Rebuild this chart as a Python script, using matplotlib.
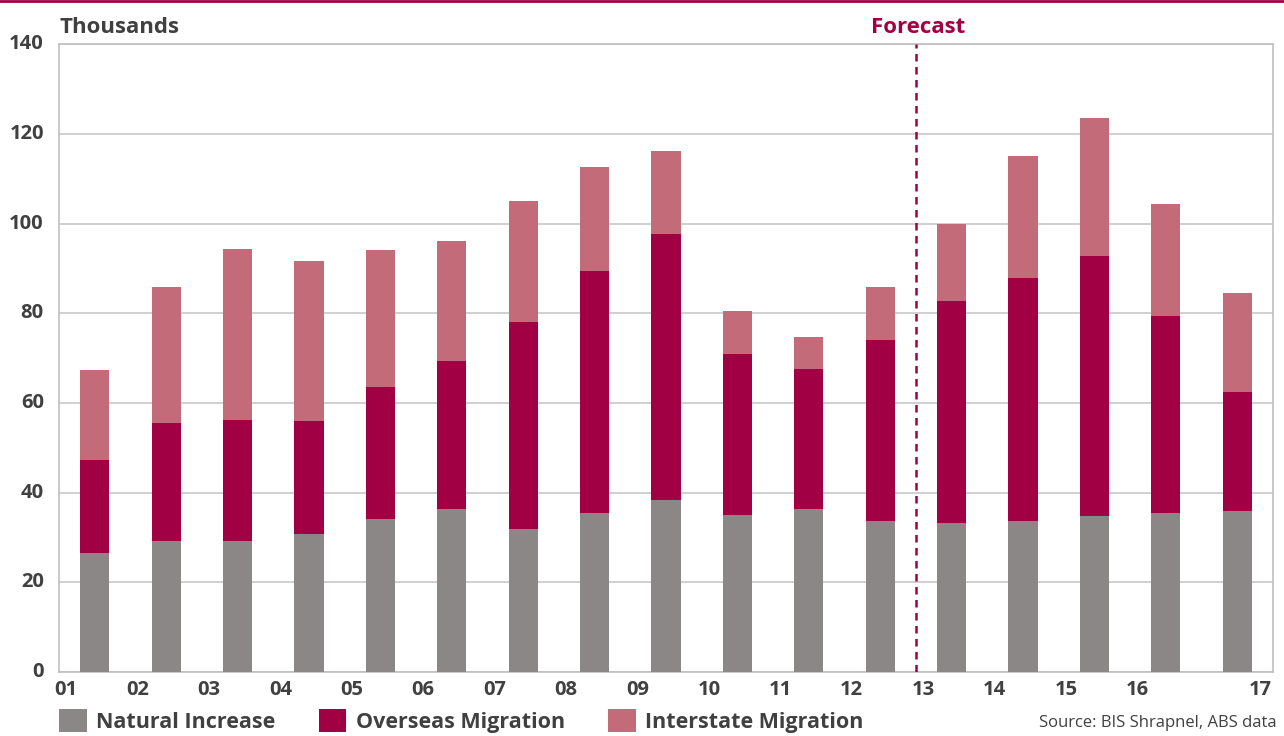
import numpy as np
import matplotlib.pyplot as plt
import matplotlib.transforms as mtransforms

plt.rcParams['font.family'] = ['Open Sans', 'DejaVu Sans']

years = ["01", "02", "03", "04", "05", "06", "07", "08", "09",
         "10", "11", "12", "13", "14", "15", "16", "17"]
natural = [26.5, 29.2, 29.2, 30.8, 34.1, 36.3, 31.9, 35.4, 38.3,
           35.0, 36.3, 33.7, 33.2, 33.7, 34.8, 35.4, 35.9]
overseas = [20.8, 26.3, 27.0, 25.2, 29.4, 33.0, 46.1, 54.0, 59.3,
            35.9, 31.2, 40.3, 49.5, 54.1, 57.9, 44.0, 26.5]
interstate = [20.0, 30.3, 38.1, 35.6, 30.6, 26.8, 27.0, 23.2, 18.5,
              9.6, 7.2, 11.8, 17.2, 27.2, 30.8, 24.9, 22.1]
forecast_start = 12

c_nat = "#8b8787"
c_ovs = "#a20044"
c_int = "#c46b7a"
c_txt = "#404040"

fig = plt.figure(figsize=(12.84, 7.36), dpi=100)
ax = fig.add_axes([0.046, 0.087, 0.9454, 0.853])

x = np.arange(len(years)) + 0.5
nat = np.array(natural)
ovs = np.array(overseas)
its = np.array(interstate)
w = 0.41
ax.bar(x, nat, w, color=c_nat, label="Natural Increase", zorder=3)
ax.bar(x, ovs, w, bottom=nat, color=c_ovs, label="Overseas Migration", zorder=3)
ax.bar(x, its, w, bottom=nat + ovs, color=c_int, label="Interstate Migration", zorder=3)

ax.set_xlim(0, len(years))
ax.set_ylim(0, 140)
ax.set_yticks(np.arange(0, 141, 20))
ax.yaxis.grid(True, color="#c8c8c8", linewidth=1.2, zorder=0)
ax.tick_params(axis="both", length=0, labelsize=14.5, labelcolor=c_txt)
ax.tick_params(axis="y", pad=11)
ax.tick_params(axis="x", pad=6)

tick_pos = list(np.arange(len(years) - 1) + 0.1) + [len(years) - 0.18]
ax.set_xticks(tick_pos)
ax.set_xticklabels(years)

# y labels sit a little above their gridlines
lift = mtransforms.ScaledTranslation(0, 2.5 / 100, fig.dpi_scale_trans)
for lab in ax.get_yticklabels():
    lab.set_fontweight("bold")
    lab.set_transform(lab.get_transform() + lift)
for lab in ax.get_xticklabels():
    lab.set_fontweight("bold")

for s in ax.spines.values():
    s.set_color("#c0c0c0")
    s.set_linewidth(1.2)

ax.axvline(forecast_start, color=c_ovs, linestyle=(0, (3, 2.2)), linewidth=1.8, zorder=4)
ax.text(forecast_start + 0.03, 141.3, "Forecast", color=c_ovs, fontsize=16, fontweight="bold",
        ha="center", va="bottom")
ax.text(0, 141.3, "Thousands", color=c_txt, fontsize=16, fontweight="bold",
        ha="left", va="bottom")

# top rule
fig.add_artist(plt.Line2D([0, 1], [0.999, 0.999], color=c_ovs, linewidth=2,
                          transform=fig.transFigure))

fig.legend(loc="lower left", bbox_to_anchor=(0.031, -0.022), ncol=3, frameon=False,
           handlelength=1.3, handleheight=1.3, handletextpad=0.42, columnspacing=2.0,
           prop={"size": 15.5, "weight": "bold"}, labelcolor=c_txt)

fig.text(0.994, 0.007, "Source: BIS Shrapnel, ABS data", ha="right", va="bottom",
         fontsize=12, color=c_txt)

fig.savefig("out.png", dpi=100)
